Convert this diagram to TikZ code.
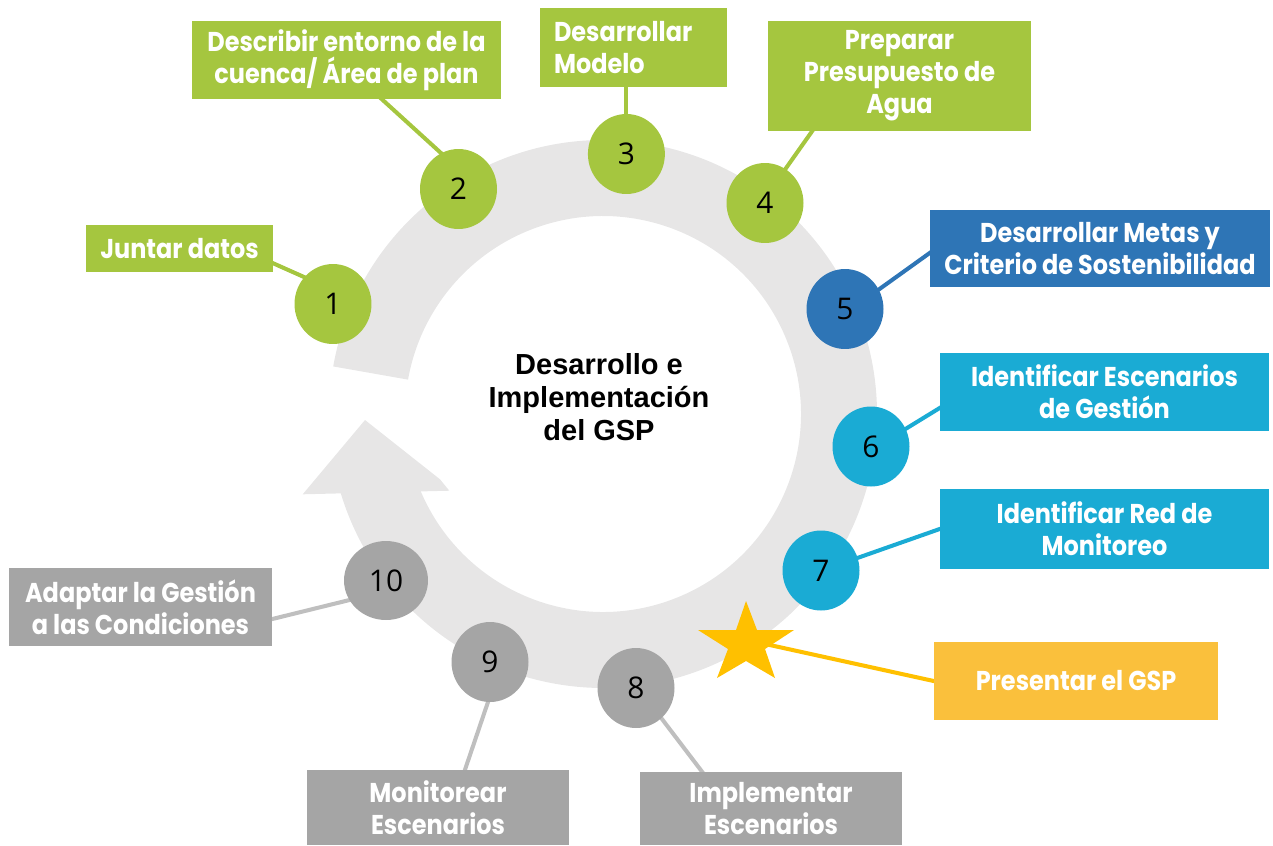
\documentclass[tikz,border=0pt]{standalone}
\usepackage{fontspec}
\usetikzlibrary{shapes.geometric,calc}
\newfontfamily\boxfont{Poppins}[FakeStretch=0.88]
\newfontfamily\numfont{Open Sans}
\newfontfamily\ctrfont{Liberation Sans}
\definecolor{cgreen}{HTML}{A5C63F}
\definecolor{cblue}{HTML}{2E75B6}
\definecolor{ccyan}{HTML}{1AABD4}
\definecolor{cgray}{HTML}{A5A5A5}
\definecolor{cgrayline}{HTML}{BFBFBF}
\definecolor{cyellowbox}{HTML}{FAC03C}
\definecolor{cstar}{HTML}{FFC000}
\definecolor{cring}{HTML}{E7E6E6}
\pgfdeclarelayer{background}
\pgfsetlayers{background,main}
\begin{document}
\begin{tikzpicture}[x=0.02cm,y=0.02cm,
  box/.style={fill=#1, text=white, font=\boxfont\bfseries\fontsize{15.5}{18.2}\selectfont, align=center, inner sep=0pt},
  num/.style={ellipse, fill=#1, text=black, font=\numfont\fontsize{17}{20}\selectfont, inner sep=0pt, minimum width=1.54cm, minimum height=1.60cm},
  conn/.style={draw=#1, line width=2.3pt, shorten <=-4pt, shorten >=-4pt}]
\useasboundingbox (0,0) rectangle (1273,-845);

% boxes
\node[box=cgreen, minimum width=3.74cm, minimum height=0.94cm] (b1) at (179.5,-248.5) {Juntar datos};
\node[box=cgreen, minimum width=6.18cm, minimum height=1.56cm] (b2) at (346.5,-60) {Describir entorno de la\\cuenca/ Área de plan};
\node[box=cgreen, minimum width=3.74cm, minimum height=1.58cm, text width=3.18cm, align=left] (b3) at (633.5,-47.5) {Desarrollar\\Modelo};
\node[box=cgreen, minimum width=5.26cm, minimum height=2.20cm] (b4) at (899.5,-76) {Preparar\\Presupuesto de\\Agua};
\node[box=cblue, minimum width=6.80cm, minimum height=1.54cm] (b5) at (1100,-248.5) {Desarrollar Metas y\\Criterio de Sostenibilidad};
\node[box=ccyan, minimum width=6.58cm, minimum height=1.56cm] (b6) at (1104.5,-392) {Identificar Escenarios\\de Gestión};
\node[box=ccyan, minimum width=6.58cm, minimum height=1.60cm] (b7) at (1104.5,-529) {Identificar Red de\\Monitoreo};
\node[box=cyellowbox, minimum width=5.68cm, minimum height=1.56cm] (bs) at (1076,-681) {Presentar el GSP};
\node[box=cgray, minimum width=5.24cm, minimum height=1.46cm] (b8) at (771,-808.5) {Implementar\\Escenarios};
\node[box=cgray, minimum width=5.24cm, minimum height=1.50cm] (b9) at (438,-807.5) {Monitorear\\Escenarios};
\node[box=cgray, minimum width=5.26cm, minimum height=1.56cm] (b10) at (140.5,-607) {Adaptar la Gestión\\a las Condiciones};

% circles
\node[num=cgreen] (c1) at (333,-304) {1};
\node[num=cgreen] (c2) at (458.5,-189) {2};
\node[num=cgreen] (c3) at (626.4,-154) {3};
\node[num=cgreen] (c4) at (765,-203) {4};
\node[num=cblue] (c5) at (845,-309) {5};
\node[num=ccyan] (c6) at (871,-446.5) {6};
\node[num=ccyan] (c7) at (821,-570.5) {7};
\node[num=cgray] (c8) at (636,-688) {8};
\node[num=cgray] (c9) at (490,-662) {9};
\node[num=cgray, minimum width=1.68cm, minimum height=1.58cm] (c10) at (386,-580.5) {10};

% star
\coordinate (st) at (747,-640);
\fill[cstar] (746,-601) -- (757,-630) -- (794,-630) -- (765,-649) -- (775,-678) -- (746,-661) -- (717,-678) -- (728,-649) -- (698,-630) -- (736,-630) -- cycle;

% centre text
\node[font=\ctrfont\bfseries\fontsize{16.5}{18.7}\selectfont, align=center, inner sep=0pt] (ctr) at (599,-397) {Desarrollo e\\Implementación\\del GSP};

\begin{pgfonlayer}{background}
  % ring arrow
  \fill[cring] ($(603,-414)+(170:5.48cm)$) arc[start angle=170, end angle=-165, radius=5.48cm]
     -- ($(603,-414)+(-158:3.96cm)$) arc[start angle=-158, end angle=170, radius=3.96cm] -- cycle;
  \fill[cring] (302.7,-494.3) -- (365,-420) -- (440,-479.3) -- (449.3,-490.7) -- cycle;
  % connectors
  \draw[conn=cgreen] ($(b1.south east)+(0,9)$) -- (c1.137);
  \draw[conn=cgreen] ($(b2.south)+(35.5,0)$) -- (c2.116.6);
  \draw[conn=cgreen] (c3.north |- b3.south) -- (c3.north);
  \draw[conn=cgreen] ($(b4.south)+(-87.5,0)$) -- (c4.59);
  \draw[conn=cblue] ($(b5.west)+(0,-4.5)$) -- (c5.30);
  \draw[conn=ccyan] ($(b6.west)+(0,-16)$) -- (c6.27);
  \draw[conn=ccyan] (b7.west) -- (c7.19);
  \draw[conn=cstar] (bs.west) -- (st);
  \draw[conn=cgrayline] (c8.-50) -- ($(b8.north)+(-69,0)$);
  \draw[conn=cgrayline] (c9.-93) -- ($(b9.north)+(27,0)$);
  \draw[conn=cgrayline] (c10.208) -- ($(b10.east)+(0,-12)$);
\end{pgfonlayer}
\end{tikzpicture}
\end{document}
